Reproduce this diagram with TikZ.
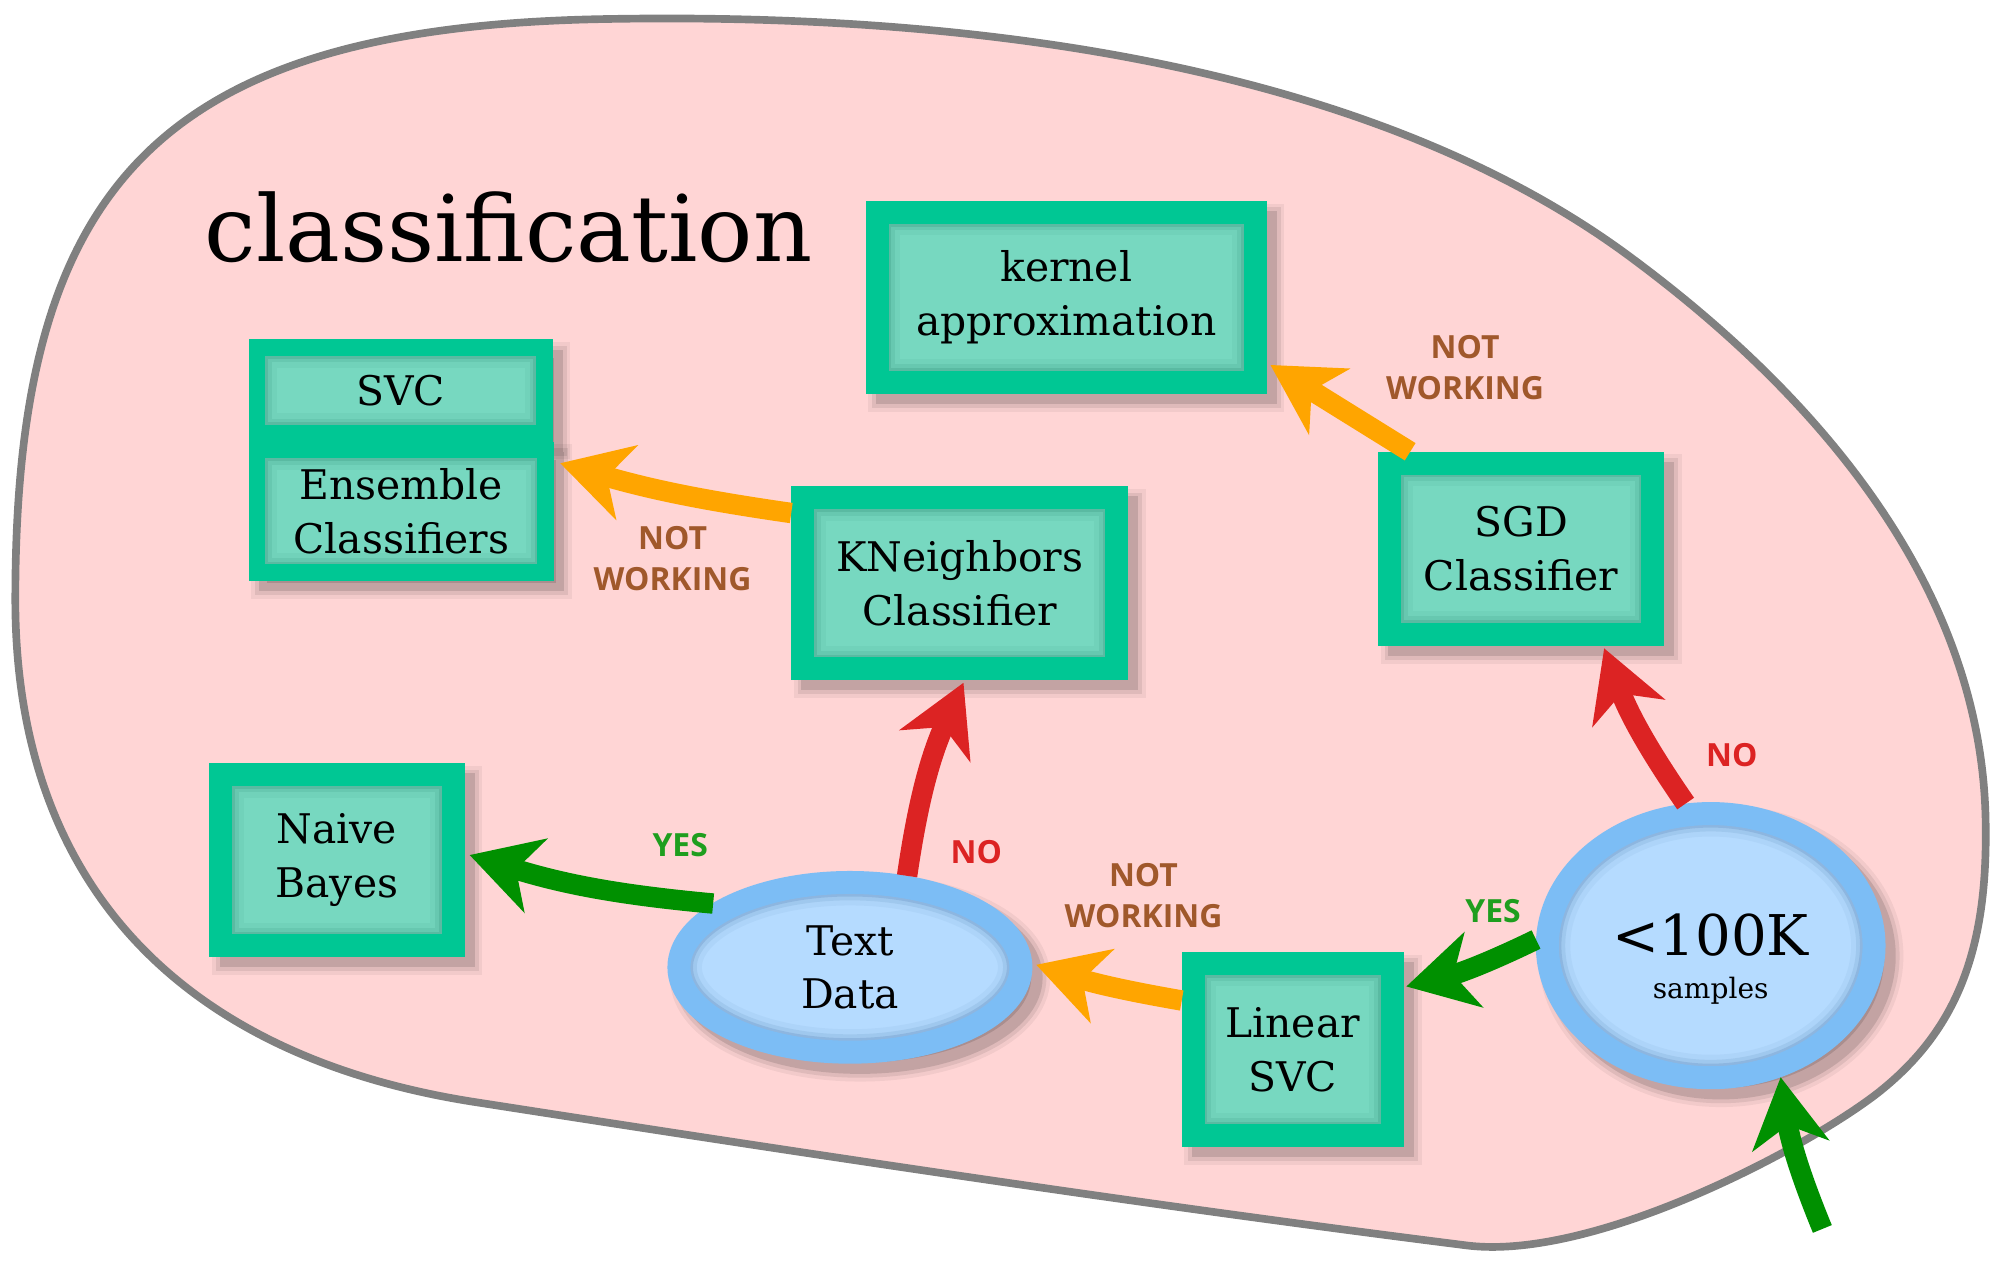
\documentclass[tikz,border=0pt]{standalone}
\usepackage{fontspec}
\setmainfont{DejaVu Serif}
\newfontfamily\lblfont{Open Sans}
\usetikzlibrary{arrows.meta,calc,shapes.geometric}
\definecolor{bgpink}{HTML}{FFD5D5}
\definecolor{blobgray}{HTML}{808080}
\definecolor{boxgreen}{HTML}{00C794}
\definecolor{innerteal}{HTML}{77D8C0}
\definecolor{innerdark}{HTML}{2E8C74}
\definecolor{ellborder}{HTML}{7CBDF5}
\definecolor{ellfill}{HTML}{B5DBFF}
\definecolor{elldark}{HTML}{4F7FAF}
\definecolor{arrred}{HTML}{DC2323}
\definecolor{arrorange}{HTML}{FFA500}
\definecolor{arrgreen}{HTML}{009000}
\definecolor{lblbrown}{HTML}{A0582B}
\definecolor{lblred}{HTML}{DC2323}
\definecolor{lblgreen}{HTML}{1E9E1E}
\begin{document}
\begin{tikzpicture}[x=0.5pt,y=-0.5pt,
  dropshade/.style={
    preaction={draw=black, draw opacity=0.05, fill=black, fill opacity=0.05, line width=#1+6pt, transform canvas={shift={(4pt,-4pt)}}},
    preaction={draw=black, draw opacity=0.08, fill=black, fill opacity=0.08, line width=#1+3pt, transform canvas={shift={(4pt,-4pt)}}},
    preaction={draw=black, draw opacity=0.12, line width=#1, transform canvas={shift={(4pt,-4pt)}}}},
  rectinner/.style={path picture={
    \foreach \lw/\op in {#1+2pt/0.22,#1+5pt/0.14,#1+9pt/0.07}{
      \draw[draw=innerdark, draw opacity=\op, line width=\lw]
        (path picture bounding box.south west) rectangle (path picture bounding box.north east);}}},
  ellinner/.style 2 args={path picture={
    \foreach \lw/\op in {11pt/0.22,14pt/0.14,18pt/0.07}{
      \draw[draw=elldark, draw opacity=\op, line width=\lw]
        (path picture bounding box.center) ellipse [x radius=#1, y radius=#2];}}},
  boxn/.style={rectangle, draw=boxgreen, fill=innerteal, line width=9pt, inner sep=0pt,
    align=center, font=\fontsize{16}{21}\selectfont, dropshade=9pt, rectinner=9pt},
  boxs/.style={rectangle, draw=boxgreen, fill=innerteal, line width=6.5pt, inner sep=0pt,
    align=center, font=\fontsize{16}{21}\selectfont, dropshade=6.5pt, rectinner=6.5pt},
  elln/.style={ellipse, draw=ellborder, fill=ellfill, line width=9pt, inner sep=0pt,
    align=center, font=\fontsize{16}{21}\selectfont, dropshade=9pt},
  lbl/.style={align=center, inner sep=0pt, font=\lblfont\bfseries\fontsize{12.5}{16}\selectfont},
  arr/.style={line width=8pt, -{Stealth[length=27pt, width=30pt, inset=8pt]}},
]
\useasboundingbox (0,0) rectangle (1568,990.5);
% blob
\draw[fill=bgpink, draw=blobgray, line width=3pt]
  (12,470) .. controls (12,150) and (120,22) .. (470,15)
  .. controls (820,8) and (1100,70) .. (1277,201)
  .. controls (1407,297) and (1556,450) .. (1556,650)
  .. controls (1557,750) and (1530,810) .. (1472,856)
  .. controls (1417,899) and (1250,988) .. (1150,976)
  .. controls (880,942) and (600,899) .. (375,864)
  .. controls (150,830) and (12,700) .. (12,470) -- cycle;
\node[anchor=base west, inner sep=0pt, font=\fontsize{36}{40}\selectfont] (title) at (160,205) {classification};
% nodes
\node[boxn, minimum width=148pt, minimum height=66.5pt] (kernel) at (835.5,233) {kernel\\approximation};
\node[boxs, minimum width=112.5pt, minimum height=33.5pt] (svc) at (314,306) {SVC};
\node[boxs, minimum width=113pt, minimum height=48pt] (ens) at (314.5,400.5) {Ensemble\\Classifiers};
\node[boxn, minimum width=123pt, minimum height=67pt] (kn) at (752,457) {KNeighbors\\Classifier};
\node[boxn, minimum width=103pt, minimum height=67pt] (sgd) at (1192,430) {SGD\\Classifier};
\node[boxn, minimum width=91pt, minimum height=67pt] (nb) at (264,674) {Naive\\Bayes};
\node[boxn, minimum width=78pt, minimum height=67.5pt] (lin) at (1013,822.5) {Linear\\SVC};
\node[elln, minimum width=134pt, minimum height=66.5pt, ellinner={67pt}{33.25pt}] (td) at (666,758) {Text\\Data};
\node[elln, minimum width=128pt, minimum height=103.5pt, ellinner={64pt}{51.75pt},
  font=\fontsize{22}{17}\selectfont] (big) at (1340.5,741)
  {\rule{0pt}{27pt}<100K\\{\fontsize{11}{17}\selectfont samples}};
\coordinate (entry) at (1428,963);
% arrows
\draw[arr, draw=arrorange] ($(sgd.north west)+(25,0)$) -- ($(kernel.east)+(3,53)$);
\draw[arr, draw=arrorange] ($(kn.north west)+(0,21)$) to[bend left=4] ($(ens.north east)+(5,17)$);
\draw[arr, draw=arrred] (td.58) to[bend left=8] ($(kn.south)+(3,2)$);
\draw[arr, draw=arrred] (big.100) to[bend left=7] ($(sgd.south east)+(-47,2)$);
\draw[arr, draw=arrgreen] (td.155) to[bend left=6] ($(nb.east)+(4,-4)$);
\draw[arr, draw=arrgreen] (big.178) to[bend left=6] ($(lin.north east)+(2,27)$);
\draw[arr, draw=arrorange] ($(lin.north west)+(0,38)$) to[bend left=4] ($(td.east)+(3,-2)$);
\draw[arr, draw=arrgreen] (entry) to[bend left=7] (big.-62);
% labels
\node[lbl, text=lblbrown] (l1) at (1148,288) {NOT\\WORKING};
\node[lbl, text=lblbrown] (l2) at (527,438) {NOT\\WORKING};
\node[lbl, text=lblbrown] (l3) at (896,702) {NOT\\WORKING};
\node[lbl, text=lblred] (l4) at (765,668) {NO};
\node[lbl, text=lblred] (l5) at (1357,592) {NO};
\node[lbl, text=lblgreen] (l6) at (533,662) {YES};
\node[lbl, text=lblgreen] (l7) at (1170,714) {YES};
\end{tikzpicture}
\end{document}
